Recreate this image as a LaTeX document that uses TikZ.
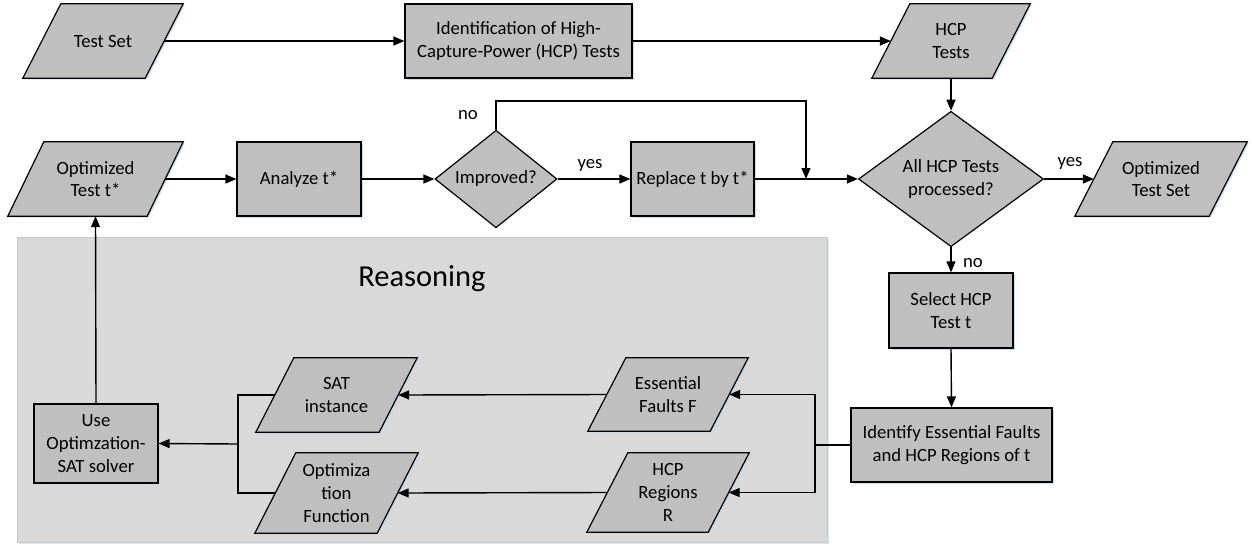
\documentclass[tikz,border=0pt]{standalone}
\usepackage{fontspec}
\setmainfont{Carlito}
\usetikzlibrary{shapes.geometric,arrows.meta,calc,shadows}
\pgfdeclarelayer{bg}
\pgfdeclarelayer{mid}
\pgfsetlayers{bg,mid,main}
\definecolor{boxgray}{HTML}{BFBFBF}
\definecolor{reasonfill}{HTML}{D9D9D9}
\definecolor{reasonline}{HTML}{C8C8C8}
\definecolor{shadowblue}{HTML}{BDD7EE}
\newcommand\mypara[2]{%
  \begin{pgfonlayer}{mid}
  \draw[parashape] ($(#1.south west)+(-#2,0)$) -- ($(#1.north west)+(#2,0)$)
     -- ($(#1.north east)+(#2,0)$) -- ($(#1.south east)+(-#2,0)$) -- cycle;
  \end{pgfonlayer}}
\begin{document}
\begin{tikzpicture}[x=1pt,y=-1pt,
  every node/.style={font=\fontsize{18.7}{22.8}\selectfont},
  softshadow/.style={drop shadow={shadow xshift=1.5pt, shadow yshift=-1.5pt, fill=shadowblue, opacity=0.8}},
  box/.style={draw, fill=boxgray, line width=1.2pt, align=center, inner sep=2pt, softshadow},
  paranode/.style={draw=none, align=center, inner sep=1pt},
  parashape/.style={draw, fill=boxgray, line width=1.2pt, line join=miter, softshadow},
  dia/.style={draw, fill=boxgray, line width=1.2pt, diamond, align=center, inner sep=0pt},
  conn/.style={line width=1.4pt},
  arr/.style={conn, -{Triangle[length=11pt,width=9pt]}},
  lbl/.style={inner sep=1pt}
]
\useasboundingbox (0,0) rectangle (1252,547);

% Reasoning area
\begin{pgfonlayer}{bg}
\draw[fill=reasonfill, draw=reasonline, line width=1pt,
  drop shadow={shadow xshift=1.5pt, shadow yshift=-1.5pt, fill=shadowblue, opacity=0.6}] (17,237) rectangle (827,542);
\end{pgfonlayer}
\node[font=\fontsize{30.5}{36}\selectfont] (reason) at (422,279) {Reasoning};

% top row
\node[paranode, minimum width=122pt, minimum height=74pt] (ts) at (103,41) {Test Set};
\node[box, minimum width=227pt, minimum height=74pt] (id) at (518.5,41) {Identification of High-\\Capture-Power (HCP) Tests};
\node[paranode, minimum width=120pt, minimum height=74pt] (hcp) at (951,41) {HCP\\Tests};

% middle row
\node[paranode, minimum width=139pt, minimum height=74pt] (ots) at (95.5,179) {Optimized\\Test t*};
\node[box, minimum width=124pt, minimum height=74pt] (an) at (299,179) {Analyze t*};
\node[dia, minimum width=122pt, minimum height=74pt] (imp) at (496,179) {Improved?};
\node[box, minimum width=123pt, minimum height=74pt] (rep) at (692.5,179) {Replace t by t*};
\node[dia, minimum width=185pt, minimum height=114pt] (all) at (951,179) {All HCP Tests\\processed?};
\node[paranode, minimum width=134pt, minimum height=74pt] (otset) at (1161,179) {Optimized\\Test Set};

% right column
\node[box, minimum width=124pt, minimum height=75pt] (sel) at (951,310.5) {Select HCP\\Test t};
\node[box, minimum width=201pt, minimum height=74pt] (ide) at (951.5,445) {Identify Essential Faults\\and HCP Regions of t};

% reasoning contents
\node[paranode, minimum width=122pt, minimum height=73pt] (ef) at (668,394.5) {Essential\\Faults F};
\node[paranode, minimum width=121pt, minimum height=79pt] (hr) at (668,492.5) {HCP\\Regions\\R};
\node[paranode, minimum width=123pt, minimum height=74pt] (sat) at (336.5,395) {SAT\\instance};
\node[paranode, minimum width=122pt, minimum height=80pt] (of) at (336.5,493) {Optimiza\\tion\\Function};
\node[box, minimum width=124pt, minimum height=79pt] (use) at (96,443.5) {Use\\Optimzation-\\SAT solver};

\mypara{ts}{19}
\mypara{hcp}{19}
\mypara{ots}{18}
\mypara{otset}{19}
\mypara{ef}{19}
\mypara{hr}{20.5}
\mypara{sat}{19}
\mypara{of}{20.5}

% helper coordinates
\coordinate (jtop) at (806,101);
\coordinate (j) at (806,179);
\coordinate (split) at (815,445);
\coordinate (merge) at (238,444);

% connectors
\draw[arr] (ts.east) -- (id.west);
\draw[arr] (id.east) -- (hcp.west);
\draw[arr] (hcp.south) -- (all.north);
\draw[arr] (ots.east) -- (an.west);
\draw[arr] (an.east) -- (imp.west);
\draw[arr] (imp.east) -- (rep.west);
\draw[arr] (rep.east) -- (all.west);
\draw[arr] (imp.north) |- (jtop) -- (j);
\draw[arr] (all.east) -- (otset.west);
\draw[arr] (all.south) -- (sel.north);
\draw[arr] (sel.south) -- (ide.north);
\draw[conn] (ide.west) -- (split);
\draw[arr] (split) |- (ef.east);
\draw[arr] (split) |- (hr.east);
\draw[arr] (ef.west) -- (sat.east);
\draw[arr] (hr.west) -- (of.east);
\draw[conn] (sat.west) -| (merge);
\draw[conn] (of.west) -| (merge);
\draw[arr] (merge) -- (use.east);
\draw[arr] (use.north) -- (ots.south);

% labels
\node[lbl] (lno1) at (468,115) {no};
\node[lbl] (lyes1) at (590,165) {yes};
\node[lbl] (lyes2) at (1070,163) {yes};
\node[lbl] (lno2) at (973,263) {no};
\end{tikzpicture}
\end{document}
